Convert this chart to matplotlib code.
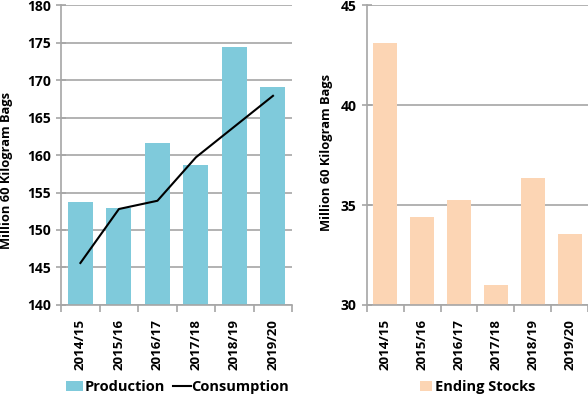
import matplotlib.pyplot as plt
import numpy as np

years = ['2014/15', '2015/16', '2016/17', '2017/18', '2018/19', '2019/20']
production = [153.7, 152.9, 161.6, 158.7, 174.4, 169.1]
consumption = [145.6, 152.8, 153.9, 159.7, 163.8, 167.9]
ending_stocks = [43.1, 34.4, 35.25, 31.0, 36.35, 33.55]

plt.rcParams['font.family'] = ['Open Sans', 'DejaVu Sans']
plt.rcParams['font.weight'] = 'bold'

fig = plt.figure(figsize=(5.88, 3.94), dpi=100)
ax1 = fig.add_axes([0.104, 0.226, 0.393, 0.761])
ax2 = fig.add_axes([0.624, 0.226, 0.376, 0.761])

x = np.arange(len(years))
grid_c = '#a6a6a6'


def style(ax, ylim, step, label_xy):
    ax.set_ylim(*ylim)
    ax.set_xlim(-0.5, len(years) - 0.5)
    ax.set_yticks(np.arange(ylim[0], ylim[1] + 0.1, step))
    ax.yaxis.grid(True, color=grid_c, linewidth=1.2)
    ax.set_axisbelow(True)
    for s in ['top', 'right']:
        ax.spines[s].set_visible(False)
    for s in ['left', 'bottom']:
        ax.spines[s].set_color(grid_c)
        ax.spines[s].set_linewidth(1.2)
    ax.set_xticks(x)
    ax.set_xticklabels(years, rotation=90, fontsize=9.5, fontweight='bold')
    ax.set_xticks(np.arange(-0.5, len(years)), minor=True)
    ax.tick_params(axis='x', which='major', length=0, pad=10)
    ax.tick_params(axis='x', which='minor', length=5, color=grid_c, width=1.2)
    ax.tick_params(axis='y', length=7, direction='inout', color=grid_c, width=1.2,
                   labelsize=10, pad=4)
    for lab in ax.get_yticklabels():
        lab.set_fontweight('bold')
    ax.set_ylabel('Million 60 Kilogram Bags', fontsize=9.3, fontweight='bold')
    ax.yaxis.set_label_coords(*label_xy)


b1 = ax1.bar(x, production, width=0.65, color='#7fcadb', label='Production', zorder=2)
l1, = ax1.plot(x, consumption, color='black', linewidth=1.5, label='Consumption', zorder=3)
style(ax1, (140, 180), 5, (-0.21, 0.45))
fig.legend(handles=[b1, l1], loc='center', bbox_to_anchor=(0.302, 0.018), ncol=2,
           frameon=False, prop={'size': 10.5, 'weight': 'bold'}, handlelength=1.2,
           handletextpad=0.05, columnspacing=0.6, borderaxespad=0)

b2 = ax2.bar(x, ending_stocks, width=0.65, color='#fcd5b4', label='Ending Stocks', zorder=2)
style(ax2, (30, 45), 5, (-0.154, 0.51))
fig.legend(handles=[b2], loc='center', bbox_to_anchor=(0.812, 0.018), frameon=False,
           prop={'size': 10.5, 'weight': 'bold'}, handlelength=0.8, handletextpad=0.2,
           borderaxespad=0)

fig.savefig('out.png', dpi=100)
